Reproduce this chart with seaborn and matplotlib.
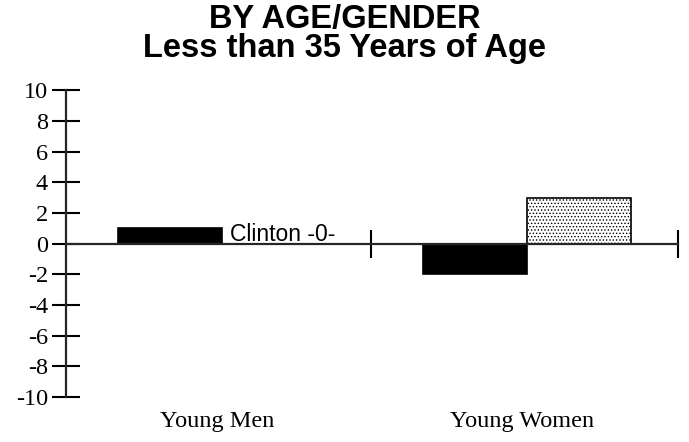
import pandas as pd
import matplotlib
matplotlib.use('Agg')
import matplotlib.pyplot as plt
import seaborn as sns

# veriler
groups = ['Young Men', 'Young Women']
series = ['Other', 'Clinton']
other_values = [1, -2]
clinton_values = [0, 3]
y_ticks = [-10, -8, -6, -4, -2, 0, 2, 4, 6, 8, 10]

df = pd.DataFrame({
    'group': groups * 2,
    'series': [series[0]] * 2 + [series[1]] * 2,
    'value': other_values + clinton_values,
})

sns.set_style('white')
plt.rcParams['font.family'] = ['Liberation Sans', 'DejaVu Sans']
plt.rcParams['text.color'] = 'black'
plt.rcParams['hatch.color'] = 'black'
plt.rcParams['hatch.linewidth'] = 0.6

fig = plt.figure(figsize=(6.89, 4.42), dpi=100)
ax = fig.add_axes([0.0958, 0.102, 0.888, 0.694])

sns.barplot(data=df, x='group', y='value', hue='series', order=groups,
            hue_order=series, palette=['black', 'white'], saturation=1,
            width=0.68, edgecolor='black', linewidth=1.2, legend=False, ax=ax)

# noktalı çubuk
for bar in ax.containers[1]:
    bar.set_hatch('.....')

ax.set_xlim(-0.51, 1.495)
ax.set_ylim(-10, 10)

for side in ['top', 'right']:
    ax.spines[side].set_visible(False)
ax.spines['bottom'].set_position(('data', 0))
ax.spines['bottom'].set_linewidth(1.6)
ax.spines['left'].set_linewidth(1.6)
ax.spines['bottom'].set_zorder(5)

ax.set_xticks([0.49, 1.495])
ax.set_xticklabels([])
ax.tick_params(axis='x', direction='inout', length=20, width=1.5, bottom=True, color='black')
ax.set_yticks(y_ticks)
ax.set_yticklabels([str(t) for t in y_ticks], fontfamily='Liberation Serif', fontsize=17.5)
ax.tick_params(axis='y', direction='inout', length=20, width=1.5, left=True, pad=3,
               color='black', labelcolor='black')
ax.set_xlabel('')
ax.set_ylabel('')

for i, g in enumerate(groups):
    ax.text(i - 0.015, -11.95, g, ha='center', va='baseline', fontsize=17.5,
            fontfamily='Liberation Serif', clip_on=False)

ax.text(0.026, 0.16, 'Clinton -0-', ha='left', va='baseline', fontsize=16.5)

fig.text(0.5, 1 - 28 / 442, 'BY AGE/GENDER', ha='center', va='baseline',
         fontsize=23.5, fontweight='bold')
fig.text(0.5, 1 - 57 / 442, 'Less than 35 Years of Age', ha='center', va='baseline',
         fontsize=23.5, fontweight='bold')

fig.savefig('out.png', dpi=100)
